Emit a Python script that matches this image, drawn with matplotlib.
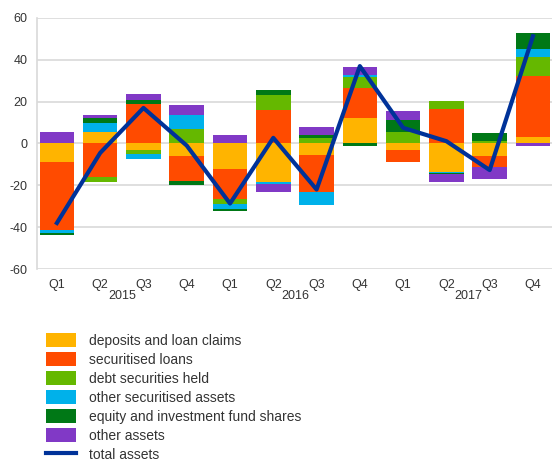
import numpy as np
import matplotlib.pyplot as plt

plt.rcParams['font.family'] = ['Liberation Sans', 'DejaVu Sans']
plt.rcParams['axes.unicode_minus'] = False

# quarters 2015Q1 .. 2017Q4
quarters = ['Q1', 'Q2', 'Q3', 'Q4'] * 3
years = ['2015', '2016', '2017']

deposits = [-8.8, 5.3, -3.0, -6.0, -12.1, -18.5, -5.3, 12.4, -3.2, -13.5, -6.2, 3.0]
sec_loans = [-32.7, -16.1, 19.0, -12.1, -14.2, 16.1, -18.0, 14.3, -5.6, 16.4, -4.9, 29.5]
debt_sec = [0.0, -2.1, -2.2, 7.0, -2.4, 7.3, 2.5, 4.9, 5.4, 3.7, 1.4, 8.9]
other_sec = [-1.1, 4.6, -2.1, 6.7, -2.4, -0.8, -6.2, 1.1, 0.0, -0.5, 0.0, 3.8]
equity = [-1.3, 2.4, 1.6, -1.6, -1.1, 2.4, 1.8, -1.0, 5.7, -0.5, 3.7, 7.5]
other_assets = [5.4, 1.4, 3.2, 4.6, 4.0, -3.9, 3.8, 4.1, 4.3, -4.0, -6.1, -1.3]
total_assets = [-38.0, -4.5, 17.0, -1.0, -28.7, 2.7, -22.0, 37.0, 7.5, 1.1, -12.7, 51.3]

series = [
    ('deposits and loan claims', deposits, '#FFB400'),
    ('securitised loans', sec_loans, '#FF4B00'),
    ('debt securities held', debt_sec, '#65B800'),
    ('other securitised assets', other_sec, '#00B1EA'),
    ('equity and investment fund shares', equity, '#007816'),
    ('other assets', other_assets, '#8139C6'),
]

fig = plt.figure(figsize=(5.52, 4.61), dpi=100)
ax = fig.add_axes([37 / 552, 1 - 269 / 461, 1 - 37 / 552, (269 - 18) / 461])

x = np.arange(len(quarters))
pos_bottom = np.zeros(len(x))
neg_bottom = np.zeros(len(x))
handles = []
for name, vals, col in series:
    v = np.array(vals)
    bottom = np.where(v >= 0, pos_bottom, neg_bottom)
    b = ax.bar(x, v, 0.8, bottom=bottom, color=col, label=name, zorder=2)
    handles.append(b)
    pos_bottom += np.where(v > 0, v, 0)
    neg_bottom += np.where(v < 0, v, 0)

line, = ax.plot(x, total_assets, color='#003299', lw=3, label='total assets', zorder=3)
handles.append(line)

ax.set_xlim(-0.46, 11.44)
ax.set_ylim(-60, 60)
ax.set_yticks(range(-60, 61, 20))
ax.yaxis.grid(True, color='#d9d9d9', lw=1.2, zorder=0)
ax.set_axisbelow(True)
for s in ['top', 'right', 'bottom']:
    ax.spines[s].set_visible(False)
ax.spines['left'].set_color('#d9d9d9')
ax.spines['left'].set_linewidth(1.2)
ax.tick_params(axis='both', length=0, labelsize=9, colors='#333333')
ax.tick_params(axis='y', pad=7)
ax.tick_params(axis='x', pad=7)
ax.set_xticks(x)
ax.set_xticklabels(quarters)

for i, yr in enumerate(years):
    ax.annotate(yr, xy=(4 * i + 1.5, 0), xycoords=('data', 'axes fraction'),
                xytext=(0, -27), textcoords='offset pixels', ha='center', va='center',
                fontsize=9, color='#333333')

fig.legend(handles=handles, labels=[h.get_label() for h in handles],
           loc='upper left', bbox_to_anchor=(46 / 552, 1 - 333 / 461),
           frameon=False, fontsize=10, handlelength=2.16, handleheight=1.15,
           labelspacing=0.32, handletextpad=0.93, borderaxespad=0, borderpad=0,
           labelcolor='#333333')

fig.savefig('out.png', dpi=100)
